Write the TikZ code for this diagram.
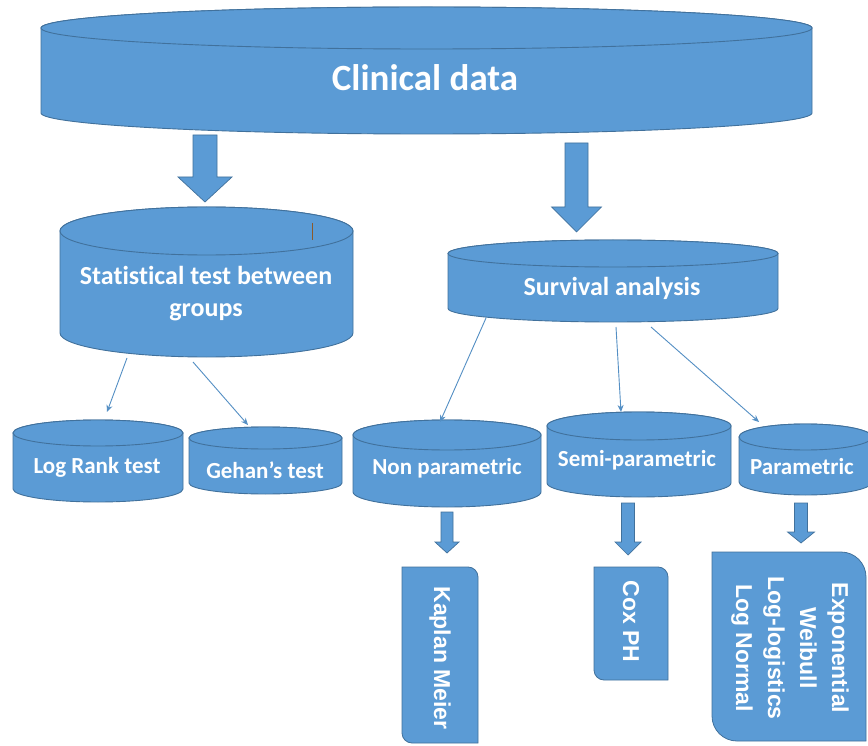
\documentclass[tikz,border=0pt]{standalone}
\usepackage{fontspec}
\setmainfont{Carlito}[Ligatures=NoCommon]
\newfontfamily\arialfont{Liberation Sans}
\usetikzlibrary{arrows.meta,calc}
\definecolor{cfill}{HTML}{5B9BD5}
\definecolor{cline}{HTML}{41719C}
\definecolor{tick}{HTML}{8B5A2B}
\tikzset{
  cyl/.style={fill=cfill, draw=cline, line width=0.9pt},
  blk/.style={fill=cfill, draw=cline, line width=0.7pt, line join=miter},
  boxshape/.style={fill=cfill, draw=cline, line width=0.8pt},
  area/.style={inner sep=0pt, outer sep=0pt, draw=none},
  lbl/.style={text=white, inner sep=0pt, align=center, font=\bfseries\fontsize{23}{28}\selectfont},
  biglbl/.style={lbl, font=\bfseries\fontsize{26}{32}\selectfont},
  rotlbl/.style={text=white, inner sep=0pt, align=center, rotate=-90, font=\arialfont\bfseries\fontsize{23}{32}\selectfont},
  thinarrow/.style={draw=cfill!92!black, line width=0.9pt, -{Stealth[length=7pt,width=6pt]}},
}
% name, left, right, top, bottom, ellipse y-radius
\newcommand{\drawcyl}[6]{%
  \pgfmathsetmacro\cylcx{(#2+#3)/2}%
  \pgfmathsetmacro\cylrx{(#3-#2)/2}%
  \pgfmathsetmacro\cylya{#4+#6}%
  \pgfmathsetmacro\cylyb{#5-#6}%
  \pgfmathsetmacro\cylcy{(#4+#5)/2}%
  \pgfmathsetmacro\cylw{#3-#2}%
  \pgfmathsetmacro\cylh{#5-#4}%
  \draw[cyl] (#2,\cylya) -- (#2,\cylyb)
     arc[start angle=180, end angle=360, x radius=\cylrx pt, y radius=#6 pt]
     -- (#3,\cylya)
     arc[start angle=0, end angle=180, x radius=\cylrx pt, y radius=#6 pt] -- cycle;
  \draw[cyl] (\cylcx,\cylya) ellipse[x radius=\cylrx pt, y radius=#6 pt];
  \node[area, minimum width=\cylw pt, minimum height=\cylh pt] (#1) at (\cylcx,\cylcy) {};
}
% x, top, head start, tip, shaft half width, head half width
\newcommand{\blockarrow}[6]{%
  \draw[blk] ({#1-#5},#2) -- ({#1+#5},#2) -- ({#1+#5},#3) -- ({#1+#6},#3)
    -- (#1,#4) -- ({#1-#6},#3) -- ({#1-#5},#3) -- cycle;
}
\begin{document}
\begin{tikzpicture}[x=1pt, y=-1pt]
\useasboundingbox (0,0) rectangle (868,746);
\fill[white] (0,0) rectangle (868,746);

% cylinders
\drawcyl{clin}{41}{812}{7}{134}{21}
\drawcyl{stat}{60}{353}{207}{357}{24}
\drawcyl{logrank}{13}{183}{420}{502}{13}
\drawcyl{gehan}{189}{342}{427}{494}{11}
\drawcyl{surv}{448}{778}{240}{322}{13.5}
\drawcyl{nonpar}{353}{541}{420}{507}{15}
\drawcyl{semi}{547}{731}{412}{497}{14}
\drawcyl{param}{739}{872}{424}{495}{13}

% small tick mark on the statistical test cylinder
\draw[tick, line width=0.8pt] (312,223) -- (312,240);

% labels
\node[text=white, inner sep=0pt, font=\bfseries\fontsize{37}{42}\selectfont] (tclin) at (425,78) {Clinical data};
\node[biglbl] (tstat) at (206,294) {Statistical test between\\groups};
\node[biglbl] (tsurv) at (612,288) {Survival analysis};
\node[lbl] (tlog) at (97,467) {Log Rank test};
\node[lbl] (tgeh) at (265,470) {Gehan’s test};
\node[lbl] (tnon) at (447,468) {Non parametric};
\node[lbl] (tsemi) at (637,460) {Semi-parametric};
\node[lbl] (tpar) at (802,467) {Parametric};

% bottom boxes
\draw[boxshape] (402,567) -- (468,567) arc[start angle=90, end angle=0, radius=10pt]
   -- (478,743) -- (412,743) arc[start angle=270, end angle=180, radius=10pt] -- cycle;
\node[area, minimum width=76pt, minimum height=176pt] (km) at (440,655) {};
\draw[boxshape] (594,567) -- (658,567) arc[start angle=90, end angle=0, radius=10pt]
   -- (668,680) -- (604,680) arc[start angle=270, end angle=180, radius=10pt] -- cycle;
\node[area, minimum width=74pt, minimum height=113pt] (cox) at (631,623.5) {};
\draw[boxshape] (712,552) -- (841,552) arc[start angle=90, end angle=0, radius=25pt]
   -- (866,741) -- (737,741) arc[start angle=270, end angle=180, radius=25pt] -- cycle;
\node[area, minimum width=154pt, minimum height=189pt] (pm) at (789,646.5) {};

\node[rotlbl] (tkm) at ([yshift=-3pt]km.center) {Kaplan Meier};
\node[rotlbl] (tcox) at ([yshift=2pt]cox.center) {Cox PH};
\node[rotlbl] (tpm) at (790,648) {Exponential\\Weibull\\Log-logistics\\Log Normal};

% block arrows
\blockarrow{205}{135}{177}{202}{12}{27}
\blockarrow{576.5}{143}{207}{232}{11.5}{25}
\blockarrow{447}{512}{542}{553}{6}{12}
\blockarrow{628}{503}{542}{555}{6.5}{13}
\blockarrow{801}{503}{532}{543}{6.5}{13.5}

% thin arrows
\draw[thinarrow] ([xshift=-79.5pt,yshift=-1pt]stat.south) -- ([xshift=9pt,yshift=8pt]logrank.north);
\draw[thinarrow] ([xshift=-13.5pt,yshift=-5pt]stat.south) -- ([xshift=-17.5pt,yshift=2pt]gehan.north);
\draw[thinarrow] ([xshift=-127pt,yshift=4pt]surv.south) -- ([xshift=-7pt,yshift=-2pt]nonpar.north);
\draw[thinarrow] ([xshift=3pt,yshift=-5pt]surv.south) -- ([xshift=-18pt,yshift=0pt]semi.north);
\draw[thinarrow] ([xshift=38pt,yshift=-5pt]surv.south) -- ([xshift=-46.5pt,yshift=2pt]param.north);
\end{tikzpicture}
\end{document}
